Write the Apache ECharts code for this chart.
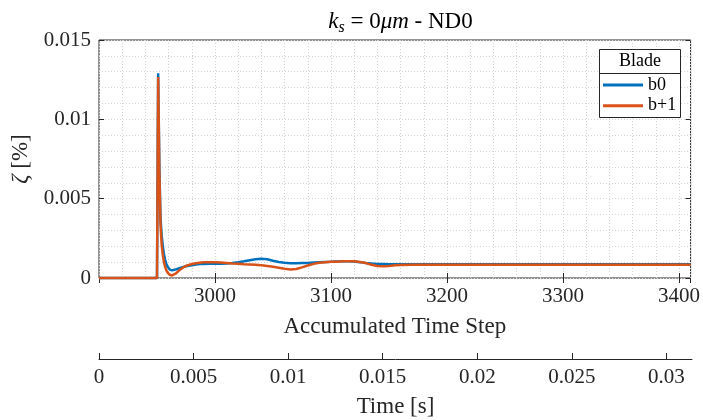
<!DOCTYPE html>
<html>
<head>
<meta charset="utf-8">
<script src="https://cdn.jsdelivr.net/npm/echarts@6/dist/echarts.min.js"></script>
<style>
  html, body { margin: 0; padding: 0; background: #fff; }
  #chart { width: 703px; height: 420px; }
</style>
</head>
<body>
<div id="chart"></div>
<script>
// Damping ratio after the perturbation, per blade
const steps = [
  2900, 2950, 2951, 2952, 2953, 2954, 2955, 2956, 2957, 2958, 2959, 2960, 2961, 2962, 2963, 2964,
  2966, 2968, 2970, 2973, 2976, 2980, 2985, 2990, 2995,
  3000, 3005, 3010, 3015, 3020, 3025, 3030, 3035, 3040, 3045, 3050, 3055, 3060, 3065, 3070, 3075,
  3080, 3085, 3090, 3095, 3100, 3105, 3110, 3115, 3120, 3125, 3130, 3135, 3140, 3145, 3150, 3155, 3160,
  3170, 3180, 3200, 3225, 3250, 3275, 3300, 3325, 3350, 3375, 3400, 3410
];
const zetaB0 = [
  0, 0, 0.0129, 0.0072, 0.0038, 0.0027, 0.0020, 0.0015, 0.00115, 0.0009, 0.00072, 0.0006, 0.00053, 0.00049, 0.00048, 0.00049,
  0.00053, 0.00058, 0.00063, 0.0007, 0.00076, 0.00081, 0.00086, 0.00089, 0.0009,
  0.0009, 0.0009, 0.00091, 0.00094, 0.00099, 0.00105, 0.00112, 0.00118, 0.00122, 0.00118, 0.00109, 0.00101, 0.00096, 0.00093, 0.00093, 0.00094,
  0.00095, 0.00097, 0.00099, 0.00101, 0.00102, 0.00104, 0.00106, 0.00106, 0.00104, 0.001, 0.00095, 0.00091, 0.00089, 0.00088, 0.00087, 0.00086, 0.00086,
  0.00086, 0.00086, 0.00087, 0.00087, 0.00087, 0.00087, 0.00087, 0.00087, 0.00087, 0.00087, 0.00087, 0.00087
];
const zetaB1 = [
  0, 0, 0.01266, 0.0068, 0.0034, 0.0021, 0.00145, 0.001, 0.0007, 0.0005, 0.00036, 0.00026, 0.0002, 0.00017, 0.00016, 0.00018,
  0.00027, 0.0004, 0.00053, 0.00068, 0.00079, 0.00088, 0.00095, 0.00099, 0.001,
  0.001, 0.00098, 0.00095, 0.00092, 0.0009, 0.00087, 0.00085, 0.00083, 0.0008, 0.00076, 0.00071, 0.00065, 0.00058, 0.00054, 0.00057, 0.00067,
  0.00079, 0.00089, 0.00096, 0.001, 0.00102, 0.00103, 0.00105, 0.00106, 0.00105, 0.00101, 0.00094, 0.00084, 0.00076, 0.00074, 0.00076, 0.0008, 0.00082,
  0.00084, 0.00084, 0.00084, 0.00084, 0.00084, 0.00084, 0.00084, 0.00084, 0.00084, 0.00084, 0.00084, 0.00084
];
const bladeNames = ['b0', 'b+1'];
const timeTicks = [0, 0.005, 0.01, 0.015, 0.02, 0.025, 0.03];

const FONT = 'Liberation Serif';
const INK = '#262626';
const GRID_COLOR = '#d4d4d4';
const plotLeft = 99, plotTop = 40, plotWidth = 593, plotHeight = 238;

const chart = echarts.init(document.getElementById('chart'), null, { renderer: 'canvas' });

const tickLabel = { fontFamily: FONT, fontSize: 21, color: INK, margin: 8 };
const dottedGrid = { show: true, lineStyle: { color: GRID_COLOR, width: 1, type: [1, 2] } };
const plain = v => String(+v.toFixed(3));

chart.setOption({
  animation: false,
  backgroundColor: '#fff',
  title: {
    text: '{i|k}{s|s}{n| = 0}{i|μm}{n| - ND0}',
    left: plotLeft + plotWidth / 2,
    textAlign: 'center',
    top: 3,
    textStyle: {
      fontWeight: 'normal',
      rich: {
        i: { fontFamily: FONT, fontSize: 23, fontStyle: 'italic', fontWeight: 'normal', color: '#000', lineHeight: 28 },
        n: { fontFamily: FONT, fontSize: 23, fontWeight: 'normal', color: '#000', lineHeight: 28 },
        s: { fontFamily: FONT, fontSize: 16, fontStyle: 'italic', fontWeight: 'normal', color: '#000', lineHeight: 16, verticalAlign: 'bottom' }
      }
    }
  },
  grid: [
    { left: plotLeft, top: plotTop, width: plotWidth, height: plotHeight, show: true, borderColor: INK, borderWidth: 1, backgroundColor: 'transparent' },
    { left: plotLeft, top: 359, width: plotWidth, height: 0, show: false }
  ],
  xAxis: [
    { // data axis with the fine grid
      gridIndex: 0, type: 'value', min: 2900, max: 3410, interval: 20,
      axisLine: { show: false }, axisTick: { show: false }, axisLabel: { show: false },
      splitLine: dottedGrid
    },
    { // labelled step axis
      gridIndex: 0, type: 'value', position: 'bottom', min: 2900, max: 3410, interval: 100,
      axisLine: { show: false },
      axisTick: { show: true, inside: true, length: 5, lineStyle: { color: INK } },
      axisLabel: Object.assign({ showMinLabel: false, showMaxLabel: false, formatter: v => String(v) }, tickLabel),
      splitLine: { show: false },
      name: 'Accumulated Time Step', nameLocation: 'middle', nameGap: 37,
      nameTextStyle: { fontFamily: FONT, fontSize: 23, color: INK }
    },
    { // mirrored ticks on the top edge
      gridIndex: 0, type: 'value', position: 'top', min: 2900, max: 3410, interval: 100,
      axisLine: { show: false },
      axisTick: { show: true, inside: true, length: 5, lineStyle: { color: INK } },
      axisLabel: { show: false }, splitLine: { show: false }
    },
    { // physical time axis
      gridIndex: 1, type: 'value', position: 'bottom', min: 0, max: 0.03135, interval: 0.005,
      axisLine: { show: true, lineStyle: { color: INK, width: 1 } },
      axisTick: { show: true, inside: true, length: 6, lineStyle: { color: INK }, customValues: timeTicks },
      axisLabel: Object.assign({ customValues: timeTicks, formatter: plain }, tickLabel),
      splitLine: { show: false },
      name: 'Time [s]', nameLocation: 'middle', nameGap: 36,
      nameTextStyle: { fontFamily: FONT, fontSize: 23, color: INK }
    }
  ],
  yAxis: [
    { // data axis with the fine grid
      gridIndex: 0, type: 'value', min: 0, max: 0.015, interval: 0.001,
      axisLine: { show: false }, axisTick: { show: false }, axisLabel: { show: false },
      splitLine: dottedGrid
    },
    { // labelled damping axis
      gridIndex: 0, type: 'value', position: 'left', min: 0, max: 0.015, interval: 0.005,
      axisLine: { show: false },
      axisTick: { show: true, inside: true, length: 5, lineStyle: { color: INK } },
      axisLabel: Object.assign({ formatter: plain }, tickLabel),
      splitLine: { show: false },
      name: '{i|ζ} [%]', nameLocation: 'middle', nameGap: 66, nameRotate: 90,
      nameTextStyle: {
        rich: {
          i: { fontFamily: FONT, fontSize: 23, fontStyle: 'italic', color: INK }
        },
        fontFamily: FONT, fontSize: 23, color: INK
      }
    },
    { // mirrored ticks on the right edge
      gridIndex: 0, type: 'value', position: 'right', min: 0, max: 0.015, interval: 0.005,
      axisLine: { show: false },
      axisTick: { show: true, inside: true, length: 5, lineStyle: { color: INK } },
      axisLabel: { show: false }, splitLine: { show: false }
    },
    { gridIndex: 1, type: 'value', show: false }
  ],
  legend: {
    data: bladeNames,
    orient: 'vertical',
    left: 603, top: 76,
    padding: 0,
    itemWidth: 40, itemHeight: 3, itemGap: 2.7,
    icon: 'rect',
    textStyle: { fontFamily: FONT, fontSize: 18, color: '#000', lineHeight: 18 },
    z: 5
  },
  graphic: {
    elements: [
      { type: 'rect', z: 3, shape: { x: 599.5, y: 49.5, width: 81, height: 68 },
        style: { fill: '#fff', stroke: INK, lineWidth: 1 } },
      { type: 'line', z: 3, shape: { x1: 599.5, y1: 73.5, x2: 680.5, y2: 73.5 },
        style: { stroke: INK, lineWidth: 1 } },
      { type: 'text', z: 3, x: 640, y: 61.5,
        style: { text: 'Blade', fontFamily: FONT, fontSize: 18, fill: '#000', align: 'center', verticalAlign: 'middle' } }
    ]
  },
  series: [
    {
      name: bladeNames[0], type: 'line', xAxisIndex: 0, yAxisIndex: 0,
      data: steps.map((s, i) => [s, zetaB0[i]]),
      showSymbol: false, symbol: 'none', clip: false,
      lineStyle: { color: '#0072BD', width: 2.5 }, itemStyle: { color: '#0072BD' }, z: 2
    },
    {
      name: bladeNames[1], type: 'line', xAxisIndex: 0, yAxisIndex: 0,
      data: steps.map((s, i) => [s, zetaB1[i]]),
      showSymbol: false, symbol: 'none', clip: false,
      lineStyle: { color: '#D95319', width: 2.5 }, itemStyle: { color: '#D95319' }, z: 2
    }
  ]
});
</script>
</body>
</html>
